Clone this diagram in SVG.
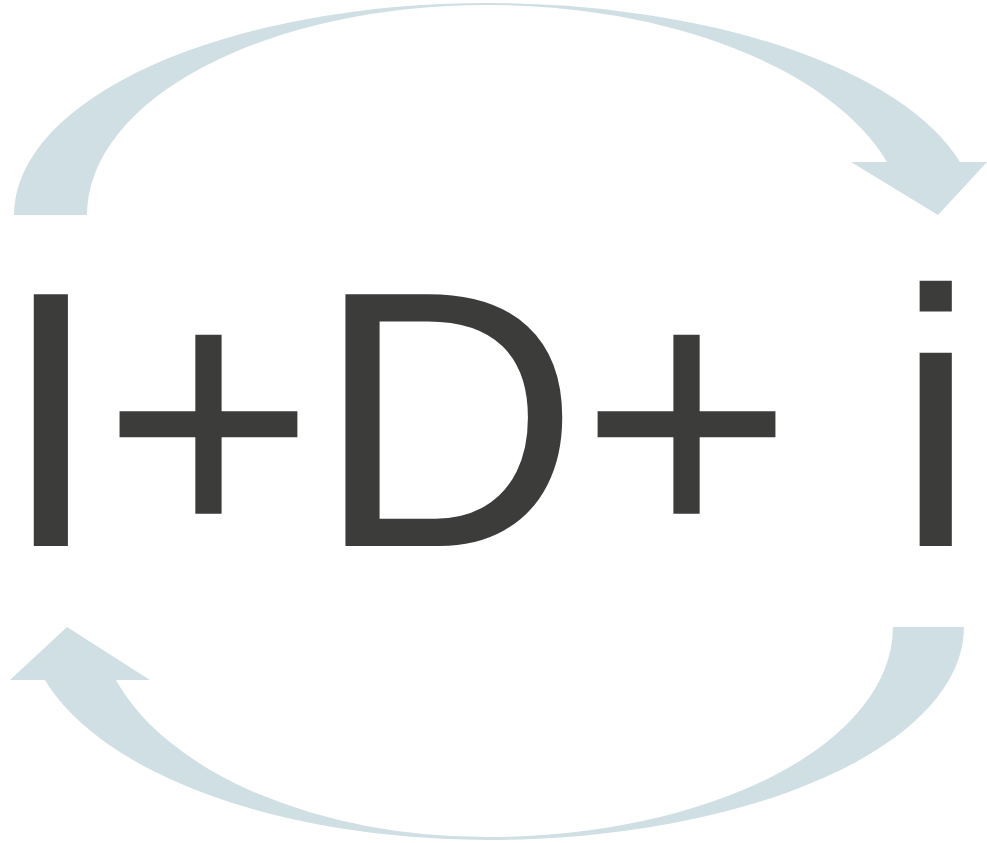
<svg xmlns="http://www.w3.org/2000/svg" width="987" height="843" viewBox="0 0 987 843">
<style>
.arrow{fill:#cfdfe4;stroke:none}
.title{font-family:"Liberation Sans",Arial,sans-serif;font-size:366px;fill:#3c3c3b}
</style>
<rect width="987" height="843" fill="#ffffff"/>
<g id="connectors">
<path id="arrow-top" class="arrow" d="M 14 215 A 473 212 0 0 1 487 3 A 490 215 0 0 1 960 162 L 987 162 L 938 215 L 851 162 L 887 162 A 420 226 0 0 0 487 5 A 400 210 0 0 0 87 215 Z"/>
<path id="arrow-bottom" class="arrow" d="M 964 627 A 477 213 0 0 1 487 840 A 460 221 0 0 1 45 680 L 10 680 L 67 627 L 150 680 L 116 680 A 390 227 0 0 0 487 837 A 406 210 0 0 0 893 627 Z"/>
</g>
<g id="label">
<text class="title" x="0" y="546">I+D+ i</text>
</g>
</svg>
